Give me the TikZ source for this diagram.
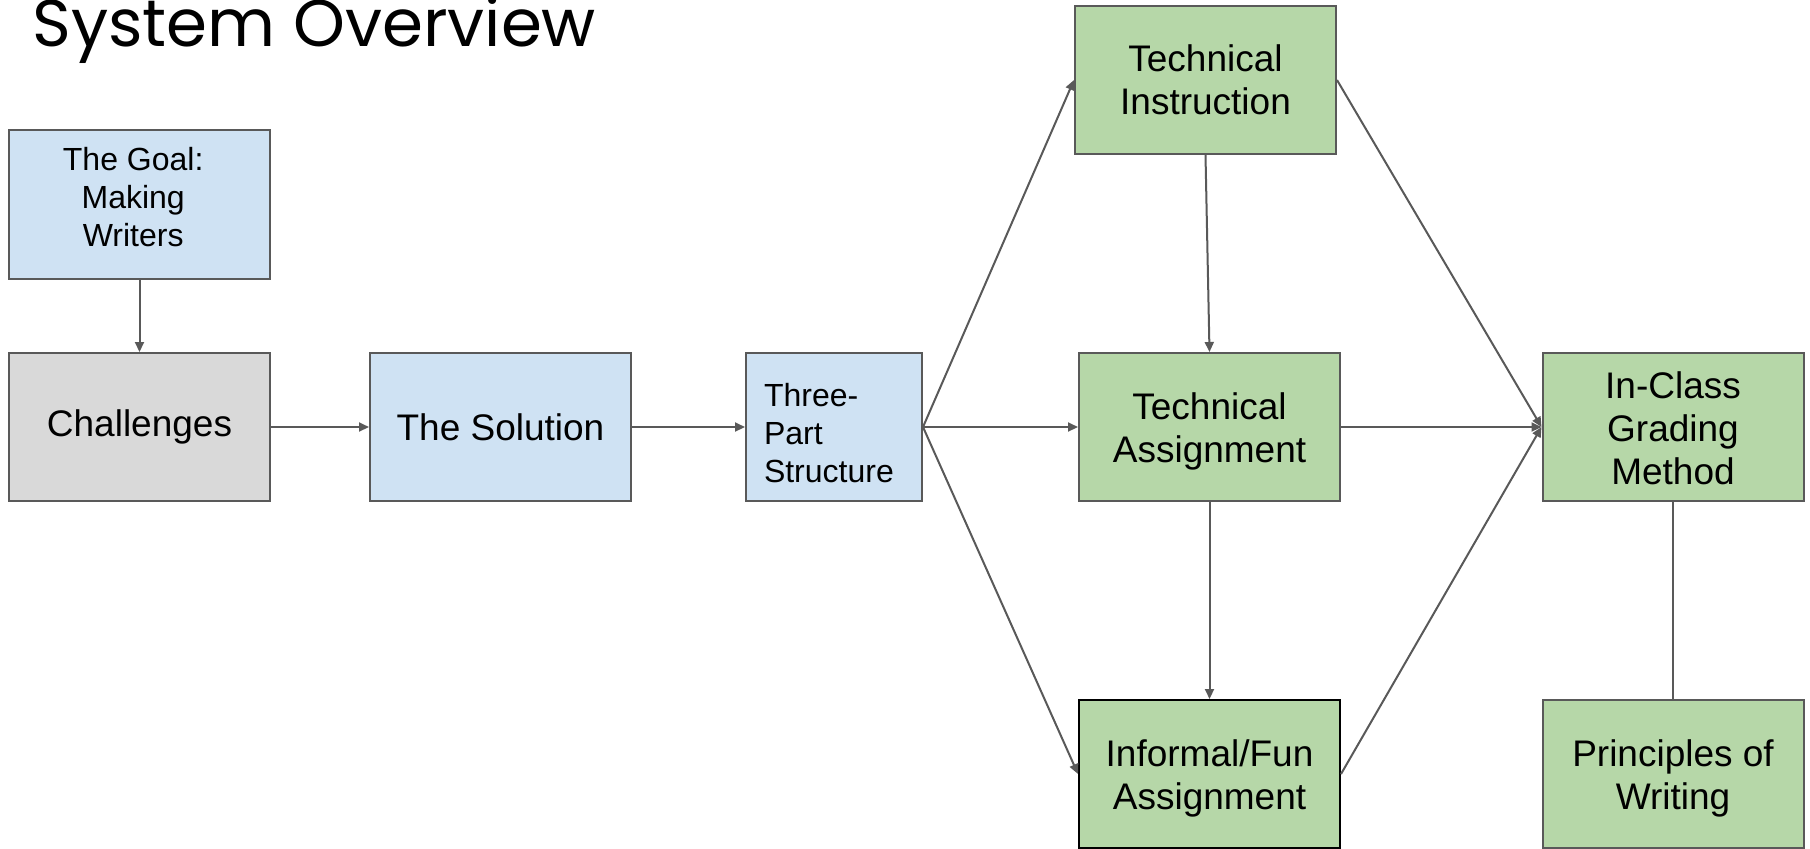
\documentclass[tikz,border=0pt]{standalone}
\usepackage{fontspec}
\setmainfont{Liberation Sans}
\newfontfamily\titlefont{Poppins}
\usepackage{xcolor}
\usetikzlibrary{arrows.meta}
\definecolor{boxblue}{HTML}{CFE2F3}
\definecolor{boxgrey}{HTML}{D9D9D9}
\definecolor{boxgreen}{HTML}{B6D7A8}
\definecolor{edgegrey}{HTML}{595959}
\def\bigtext{\fontsize{18.5}{21.5}\selectfont}
\def\smalltext{\fontsize{16}{19}\selectfont}
\def\dropby#1{\rule{0pt}{\dimexpr\fontcharht\font`h+#1\relax}}

\begin{document}
\begin{tikzpicture}[x=0.5pt,y=-0.5pt,
	box/.style={draw=edgegrey,line width=1pt,minimum width=130.5pt,minimum height=74pt,inner sep=0pt,align=center,font=\bigtext},
	bluebox/.style={box,fill=boxblue},
	greybox/.style={box,fill=boxgrey},
	greenbox/.style={box,fill=boxgreen},
	link/.style={draw=edgegrey,line width=1pt,-{Triangle[length=5pt,width=4.5pt]}},
	plainlink/.style={draw=edgegrey,line width=1pt}]
	\useasboundingbox (0,0) rectangle (1810,848);
	\node[anchor=base west,inner sep=0pt,font=\titlefont\fontsize{33}{36}\selectfont] (title) at (32,46) {System Overview};
	\node[bluebox,font=\smalltext,minimum height=74.5pt] (goal) at (139.5,204.5) {\raisebox{2pt}[\height][\depth]{\begin{tabular}{@{}c@{\hspace{6.3pt}}}The Goal:\\Making\\Writers\end{tabular}}};
	\node[greybox] (chal) at (139.5,427) {Challenges};
	\node[bluebox] (sol) at (500.5,427) {The Solution};
	\node[bluebox,minimum width=88pt,text width=70pt,align=left,font=\smalltext] (three) at (834,427) {Three-\dropby{7pt}\\Part\\Structure};
	\node[greenbox] (tinstr) at (1205.5,80) {Technical\\Instruction};
	\node[greenbox] (tassign) at (1209.5,427) {Technical\dropby{4.6pt}\\Assignment};
	\node[greenbox,draw=black] (fun) at (1209.5,774) {Informal/Fun\dropby{4.6pt}\\Assignment};
	\node[greenbox] (grading) at (1673,427) {In-Class\dropby{2pt}\\Grading\\Method};
	\node[greenbox] (princ) at (1673,774) {Principles of\dropby{4.6pt}\\Writing};
	\draw[link] (goal) -- (chal);
	\draw[link] (chal) -- (sol);
	\draw[link] (sol) -- (three);
	\draw[link] (three.east) -- (tinstr.west);
	\draw[link] (three.east) -- (tassign.west);
	\draw[link] (three.east) -- (fun.west);
	\draw[link] (tinstr.south) -- (tassign.north);
	\draw[link] (tassign.south) -- (fun.north);
	\draw[link] (tinstr.east) -- (grading.west);
	\draw[link] (tassign.east) -- (grading.west);
	\draw[link] (fun.east) -- (grading.west);
	\draw[plainlink] (grading) -- (princ);
\end{tikzpicture}
\end{document}
